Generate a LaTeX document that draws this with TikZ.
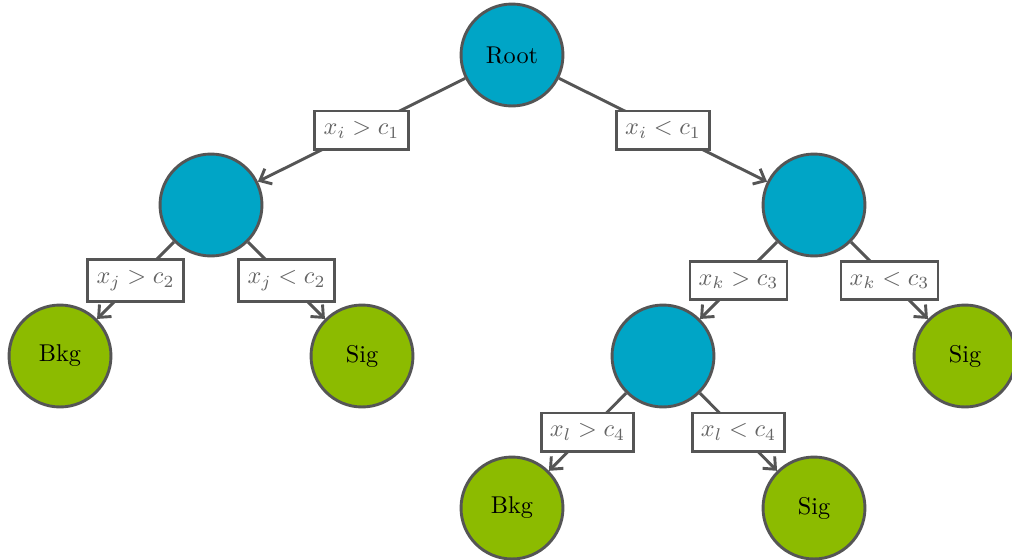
\documentclass[tikz,border=0pt]{standalone}
\usetikzlibrary{arrows.meta}
\definecolor{nodeblue}{RGB}{0,165,198}
\definecolor{leafgreen}{RGB}{140,187,0}
\definecolor{edgegray}{RGB}{85,85,85}
\definecolor{labelgray}{RGB}{100,100,100}
\begin{document}
\begin{tikzpicture}[x=0.412pt,y=-0.412pt,
  inner/.style={circle,draw=edgegray,fill=nodeblue,line width=1.2pt,minimum size=42pt,inner sep=0pt},
  leaf/.style={circle,draw=edgegray,fill=leafgreen,line width=1.2pt,minimum size=42pt,inner sep=0pt},
  cut/.style={draw=edgegray,fill=white,line width=1.2pt,text=labelgray,inner xsep=3.6pt,inner ysep=4.4pt},
  branch/.style={draw=edgegray,line width=1.2pt,-{Straight Barb[length=4pt,width=7pt,line width=1.2pt]}}]
\useasboundingbox (0,0) rectangle (1012,560);
% nodes of the tree
\node[inner] (root) at (512,55) {Root};
\node[inner] (l)  at (211,205) {};
\node[inner] (r)  at (814,205) {};
\node[leaf]  (ll) at (60,356)  {Bkg};
\node[leaf]  (lr) at (362,356) {Sig};
\node[inner] (rl) at (663,356) {};
\node[leaf]  (rr) at (965,356) {Sig};
\node[leaf]  (rll) at (512,508) {Bkg};
\node[leaf]  (rlr) at (814,508) {Sig};
% branches with their cuts
\draw[branch] (root) -- node[cut] {$x_i > c_1$} (l);
\draw[branch] (root) -- node[cut] {$x_i < c_1$} (r);
\draw[branch] (l) -- node[cut] {$x_j > c_2$} (ll);
\draw[branch] (l) -- node[cut] {$x_j < c_2$} (lr);
\draw[branch] (r) -- node[cut] {$x_k > c_3$} (rl);
\draw[branch] (r) -- node[cut] {$x_k < c_3$} (rr);
\draw[branch] (rl) -- node[cut] {$x_l > c_4$} (rll);
\draw[branch] (rl) -- node[cut] {$x_l < c_4$} (rlr);
\end{tikzpicture}
\end{document}
